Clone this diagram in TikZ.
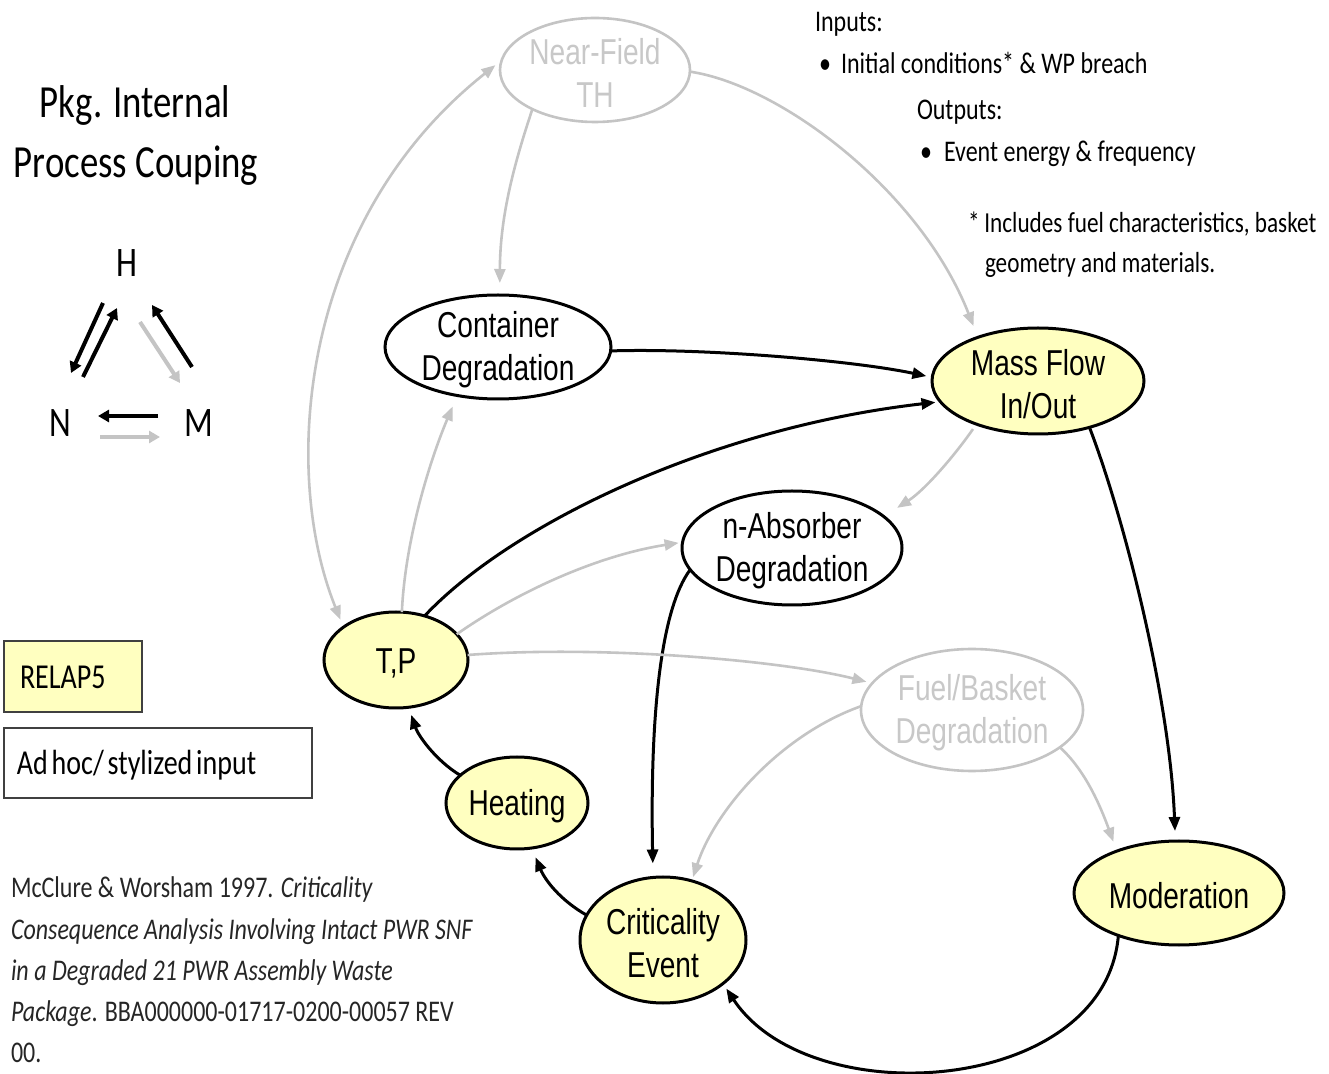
\documentclass[tikz,border=0pt]{standalone}
\usepackage{fontspec}
\usetikzlibrary{shapes.geometric,arrows.meta}
\newfontfamily\procfont[FakeStretch=0.78]{Liberation Sans}
\newfontfamily\notefont[FakeStretch=0.8]{Carlito}
\newfontfamily\keyfont[FakeStretch=0.801,WordSpace=0.6]{Carlito}
\definecolor{procyellow}{HTML}{FFFFC0}
\definecolor{faint}{HTML}{C4C4C4}
\definecolor{fainttext}{HTML}{C8C8C8}
\definecolor{boxline}{HTML}{404040}

\begin{document}
\begin{tikzpicture}[x=0.5pt,y=-0.5pt,
  every node/.style={inner sep=0pt, outer sep=0pt},
  proctext/.style={font=\procfont\fontsize{18}{21.5}\selectfont, align=center, yshift=-1.5pt},
  proc/.style={ellipse, draw=black, line width=1.5pt, fill=white},
  modelled/.style={proc, fill=procyellow},
  faded/.style={ellipse, draw=faint, line width=1.3pt, fill=white},
  note/.style={font=\notefont\fontsize{15}{18}\selectfont, anchor=base west},
  cite/.style={font=\notefont\fontsize{15}{18}\selectfont, anchor=base west, text=black!85},
  legtext/.style={font=\keyfont\fontsize{17.5}{20}\selectfont, anchor=base west},
  legendbox/.style={rectangle, draw=boxline, line width=1pt},
  flow/.style={draw=black, line width=1.5pt, -{Triangle[length=7pt,width=5.5pt]}},
  link/.style={draw=faint, line width=1.3pt, -{Triangle[length=7pt,width=5.5pt]}},
  legblk/.style={draw=black, line width=2pt, -{Triangle[length=5.5pt,width=6pt]}},
  leggry/.style={draw=faint, line width=2pt, -{Triangle[length=5.5pt,width=6pt]}},
  cpl/.style={font=\notefont\fontsize{21}{24}\selectfont}
]
\useasboundingbox[fill=white] (0,0) rectangle (1329,1074);

% ---- title and coupling legend ----
\node[font=\notefont\fontsize{23}{28}\selectfont, anchor=base] (title1) at (135,118) {Pkg. Internal};
\node[font=\notefont\fontsize{23}{28}\selectfont, anchor=base] (title2) at (136,178) {Process Couping};

\node[cpl] (lh) at (127,263) {H};
\node[cpl] (ln) at (60,423) {N};
\node[cpl] (lm) at (199,423) {M};

\coordinate (hn-a) at (103,303); \coordinate (hn-b) at (71,373);
\coordinate (nh-a) at (83,377);  \coordinate (nh-b) at (117,308);
\coordinate (hm-a) at (140,322); \coordinate (hm-b) at (180,383);
\coordinate (mh-a) at (192,367); \coordinate (mh-b) at (152,305);
\coordinate (mn-a) at (158,416); \coordinate (mn-b) at (98,416);
\coordinate (nm-a) at (100,437); \coordinate (nm-b) at (160,437);
\draw[legblk] (hn-a) -- (hn-b);
\draw[legblk] (nh-a) -- (nh-b);
\draw[leggry] (hm-a) -- (hm-b);
\draw[legblk] (mh-a) -- (mh-b);
\draw[legblk] (mn-a) -- (mn-b);
\draw[leggry] (nm-a) -- (nm-b);

% ---- key boxes ----
\node[legendbox, fill=procyellow, minimum width=69pt, minimum height=35.5pt] (relap) at (73,676.5) {};
\node[legtext] (relap-t) at (20,689) {RELAP5};
\node[legendbox, fill=white, minimum width=154pt, minimum height=35pt] (adhoc) at (158,763) {};
\node[legtext] (adhoc-t) at (17,775) {Ad hoc/ stylized input};

% ---- inputs / outputs notes ----
\node[note] (in0) at (815,32) {Inputs:};
\node[note] (in1b) at (819,74) {•};
\node[note] (in1) at (841,74) {Initial conditions* \& WP breach};
\node[note] (out0) at (917,120) {Outputs:};
\node[note] (out1b) at (920,162) {•};
\node[note] (out1) at (944,162) {Event energy \& frequency};
\node[note, font=\notefont\fontsize{14.5}{18}\selectfont] (fn1) at (968,233) {*\,Includes fuel characteristics, basket};
\node[note, font=\notefont\fontsize{14.5}{18}\selectfont] (fn2) at (985,273) {geometry and materials.};

% ---- reference ----
\node[cite] (ref1) at (11,898) {McClure \& Worsham 1997. \textit{Criticality}};
\node[cite] (ref2) at (11,939) {\textit{Consequence Analysis Involving Intact PWR SNF}};
\node[cite] (ref3) at (11,980) {\textit{in a Degraded 21 PWR Assembly Waste}};
\node[cite] (ref4) at (11,1021) {\textit{Package}. BBA000000-01717-0200-00057 REV};
\node[cite] (ref5) at (11,1062) {00.};

% ---- process nodes ----
\node[faded, minimum width=95pt, minimum height=52pt,
      label={[proctext, text=fainttext]center:{Near-Field\\TH}}] (nf) at (595,70) {};
\node[proc, minimum width=113pt, minimum height=52pt,
      label={[proctext]center:{Container\\Degradation}}] (cd) at (498,347) {};
\node[modelled, minimum width=106pt, minimum height=53pt,
      label={[proctext]center:{Mass Flow\\In/Out}}] (mf) at (1038,381) {};
\node[proc, minimum width=110pt, minimum height=57pt,
      label={[proctext]center:{n-Absorber\\Degradation}}] (na) at (792,548) {};
\node[modelled, minimum width=72pt, minimum height=48pt,
      label={[proctext]center:{T,P}}] (tp) at (396,660) {};
\node[faded, minimum width=111pt, minimum height=61pt,
      label={[proctext, text=fainttext]center:{Fuel/Basket\\Degradation}}] (fb) at (972,710) {};
\node[modelled, minimum width=71pt, minimum height=46pt,
      label={[proctext]center:{Heating}}] (he) at (517,803) {};
\node[modelled, minimum width=83pt, minimum height=63pt,
      label={[proctext]center:{Criticality\\Event}}] (ce) at (663,940) {};
\node[modelled, minimum width=105pt, minimum height=52pt,
      label={[proctext]center:{Moderation}}] (mo) at (1179,893) {};

% ---- strong couplings ----
\draw[flow, shorten >=3pt] (cd.-2) .. controls (700,348) and (850,360) .. (mf.178);
\draw[flow, shorten >=2.5pt] (tp.57) .. controls (510,525) and (710,428) .. (mf.192);
\draw[flow, shorten >=5pt] (mf.-42) .. controls (1125,520) and (1170,700) .. (mo.94);
\draw[flow, shorten >=7pt] (na.192) .. controls (660,610) and (650,720) .. (ce.99);
\draw[flow, shorten >=3pt] (mo.215) .. controls (1105,1095) and (810,1115) .. (ce.-36);
\draw[flow, shorten >=5pt] (ce.162) .. controls (560,900) and (545,880) .. (he.-72);
\draw[flow, shorten >=4pt] (he.154) .. controls (435,760) and (418,735) .. (tp.-75);

% ---- weak couplings ----
\draw[link, shorten >=6pt] (nf.212) .. controls (512,170) and (500,220) .. (cd.88);
\draw[link, shorten >=6pt] (nf.-1) .. controls (780,85) and (920,190) .. (mf.144);
\draw[link, {Triangle[length=7pt,width=5.5pt]}-{Triangle[length=7pt,width=5.5pt]},
      shorten <=4pt, shorten >=4pt] (tp.148) .. controls (280,470) and (300,220) .. (nf.174);
\draw[link, shorten >=6pt] (tp.83) .. controls (405,540) and (430,460) .. (cd.-130);
\draw[link, shorten >=2pt] (tp.23) .. controls (520,590) and (600,555) .. (na.177);
\draw[link, shorten >=3pt] (tp.4) .. controls (600,645) and (780,660) .. (fb.165);
\draw[link, shorten <=3pt, shorten >=8pt] (mf.215) .. controls (955,455) and (925,490) .. (na.19);
\draw[link, shorten >=2pt] (fb.178) .. controls (780,735) and (715,810) .. (ce.64);
\draw[link, shorten >=5pt] (fb.-23) .. controls (1085,770) and (1100,805) .. (mo.146);
\end{tikzpicture}
\end{document}
